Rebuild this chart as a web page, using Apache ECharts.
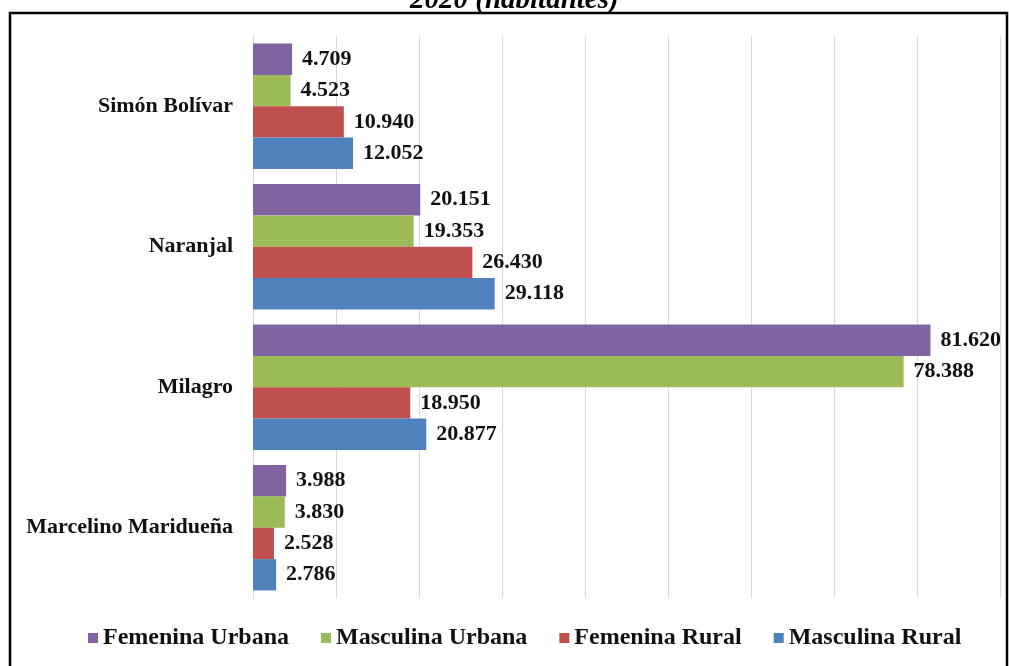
<!DOCTYPE html>
<html>
<head>
<meta charset="utf-8">
<title>Población por cantón 2020 (habitantes)</title>
<script src="https://cdn.jsdelivr.net/npm/echarts@6/dist/echarts.min.js"></script>
<style>
  html, body { margin: 0; padding: 0; background: #fff; }
  #chart { width: 1009px; height: 666px; }
</style>
</head>
<body>
<div id="chart"></div>
<script>
// Cantones, listed bottom to top as they appear on the category axis
const cantones = ['Marcelino Maridueña', 'Milagro', 'Naranjal', 'Simón Bolívar'];

// Population 2020 by sex and area (habitantes), same order as cantones
const femeninaUrbana  = [3988, 81620, 20151, 4709];
const masculinaUrbana = [3830, 78388, 19353, 4523];
const femeninaRural   = [2528, 18950, 26430, 10940];
const masculinaRural  = [2786, 20877, 29118, 12052];

const legendOrder = ['Femenina Urbana', 'Masculina Urbana', 'Femenina Rural', 'Masculina Rural'];

const serifFont = '"Liberation Serif", "Times New Roman", serif';

// 4709 -> "4.709"
function miles(v) {
  const s = String(Math.round(v));
  return s.replace(/\B(?=(\d{3})+(?!\d))/g, '.');
}

function barSeries(name, data, color) {
  return {
    name: name,
    type: 'bar',
    data: data,
    barGap: '0%',
    barCategoryGap: '10.7%',
    itemStyle: { color: color },
    label: {
      show: true,
      position: 'right',
      distance: 10,
      formatter: p => miles(p.value),
      color: '#111',
      fontFamily: serifFont,
      fontWeight: 'bold',
      fontSize: 22
    }
  };
}

const chart = echarts.init(document.getElementById('chart'), null, { renderer: 'canvas' });

chart.setOption({
  animation: false,
  backgroundColor: '#fff',
  grid: { left: 253, right: 9, top: 36, bottom: 68, containLabel: false },
  legend: {
    data: legendOrder,
    bottom: 11,
    left: 83,
    itemWidth: 10,
    itemHeight: 10,
    itemGap: 32,
    icon: 'rect',
    textStyle: {
      fontFamily: serifFont,
      fontWeight: 'bold',
      fontSize: 24,
      color: '#111'
    }
  },
  xAxis: {
    type: 'value',
    min: 0,
    max: 90000,
    interval: 10000,
    axisLabel: { show: false },
    axisTick: { show: false },
    axisLine: { show: false },
    splitLine: { show: true, lineStyle: { color: '#d9d9d9', width: 1 } }
  },
  yAxis: {
    type: 'category',
    data: cantones,
    axisTick: { show: false },
    axisLine: { show: true, lineStyle: { color: '#d9d9d9', width: 1 } },
    axisLabel: {
      margin: 20,
      fontFamily: serifFont,
      fontWeight: 'bold',
      fontSize: 22,
      color: '#111'
    }
  },
  // within each canton the first series sits on top
  series: [
    barSeries('Femenina Urbana', femeninaUrbana, '#8064A2'),
    barSeries('Masculina Urbana', masculinaUrbana, '#9BBB59'),
    barSeries('Femenina Rural', femeninaRural, '#C0504D'),
    barSeries('Masculina Rural', masculinaRural, '#4F81BD')
  ],
  graphic: [
    {
      type: 'text',
      left: 410,
      top: -14,
      style: {
        text: '2020 (habitantes)',
        font: 'italic bold 29px ' + serifFont,
        fill: '#000'
      },
      z: 1
    },
    {
      type: 'rect',
      shape: { x: 10, y: 13, width: 997, height: 680 },
      style: { fill: 'none', stroke: '#000', lineWidth: 2.5 },
      silent: true,
      z: 10
    }
  ]
});
</script>
</body>
</html>
